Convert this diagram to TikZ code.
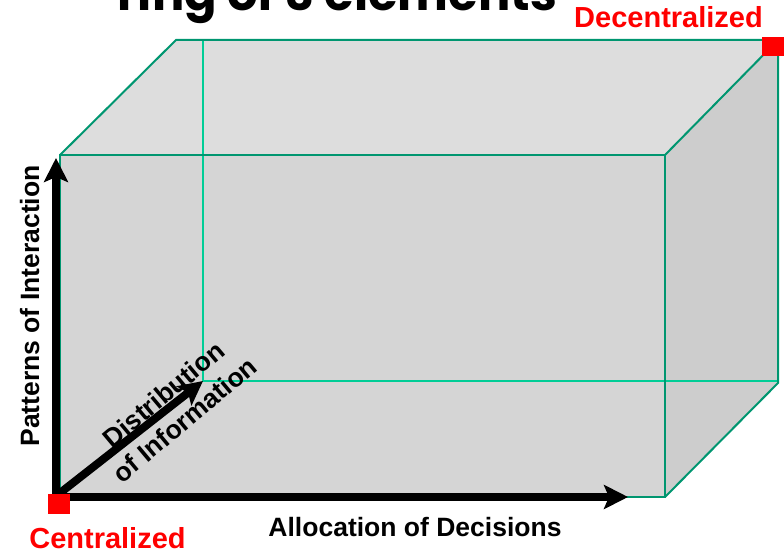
\documentclass[tikz,border=0pt]{standalone}
\usepackage{fontspec}
\setmainfont{Liberation Sans}
\newfontfamily\titlefont{Poppins}
\usepackage{tikz}
\usetikzlibrary{arrows.meta,positioning,calc}
\definecolor{edgegreen}{RGB}{0, 150, 112}
\definecolor{innergreen}{RGB}{0, 205, 150}
\definecolor{topgray}{RGB}{221, 221, 221}
\definecolor{frontgray}{RGB}{213, 213, 213}
\definecolor{sidegray}{RGB}{205, 205, 205}
\definecolor{labelred}{RGB}{255, 0, 0}

\begin{document}
\begin{tikzpicture}[x=1pt, y=-1pt, >=Stealth,
		cubeEdge/.style={line width=2pt, color=edgegreen, line join=miter},
		hiddenEdge/.style={line width=1.8pt, color=innergreen},
		axisLine/.style={line width=8pt, ->, >={Stealth[length=24pt, width=24pt, inset=5pt]}},
		axisLabel/.style={inner sep=0pt, font=\fontsize{26.5}{30}\selectfont\bfseries},
		endLabel/.style={inner sep=0pt, text=labelred, font=\fontsize{29}{32}\selectfont\bfseries},
		endBox/.style={fill=labelred, draw=none, inner sep=0pt, minimum width=22pt, minimum height=20pt}
		]
	
	\useasboundingbox (0,0) rectangle (784,551);
	
	% corners of the box
	\coordinate (fbl) at (60,497);
	\coordinate (ftl) at (60,155);
	\coordinate (ftr) at (665,155);
	\coordinate (fbr) at (665,497);
	\coordinate (btl) at (176,40);
	\coordinate (btr) at (778,40);
	\coordinate (bbr) at (778,383);
	\coordinate (itl) at (203,40);
	\coordinate (ibl) at (203,381);
	\coordinate (ibr) at (778,381);
	
	\node [anchor=base east, inner sep=0pt, font=\titlefont\fontsize{48}{50}\selectfont\bfseries] (title) at (557,11) {ring of 3 elements};
	
	\fill [topgray] (ftl) -- (btl) -- (btr) -- (ftr) -- cycle;
	\fill [sidegray] (ftr) -- (btr) -- (bbr) -- (fbr) -- cycle;
	\fill [frontgray] (fbl) rectangle (ftr);
	
	\draw [hiddenEdge] (itl) -- (ibl) -- (ibr);
	
	\draw [cubeEdge] (fbl) -- (ftl) -- (ftr) -- (fbr) -- cycle;
	\draw [cubeEdge] (ftl) -- (btl) -- (btr) -- (ftr);
	\draw [cubeEdge] (btr) -- (bbr) -- (fbr);
	
	\coordinate (origin) at (56,497);
	\coordinate (upEnd) at (56,158);
	\coordinate (rightEnd) at (628,497);
	\coordinate (depthEnd) at (203,381);
	
	\draw [axisLine] ($(origin)+(0,4)$) -- (upEnd);
	\draw [axisLine] ($(origin)+(-4,0)$) -- (rightEnd);
	\draw [axisLine] ($(origin)+(4,-4)$) -- (depthEnd);
	
	\node [endBox] (cbox) at (58.5,503.5) {};
	\node [endBox, minimum height=19pt] (dbox) at (773,46.5) {};
	
	\node [endLabel, anchor=base east] (dlabel) at (763,28) {Decentralized};
	\node [endLabel, anchor=base] (clabel) at (107.5,548) {Centralized};
	
	\node [axisLabel, anchor=base] (alloc) at (415,536) {Allocation of Decisions};
	\node [axisLabel, anchor=base, rotate=90] (pattern) at (39,306) {Patterns of Interaction};
	\node [axisLabel, rotate=40, align=center, font=\fontsize{26.5}{33}\selectfont\bfseries] (distrib) at (174,407) {Distribution\\of Information};
	
\end{tikzpicture}
\end{document}
